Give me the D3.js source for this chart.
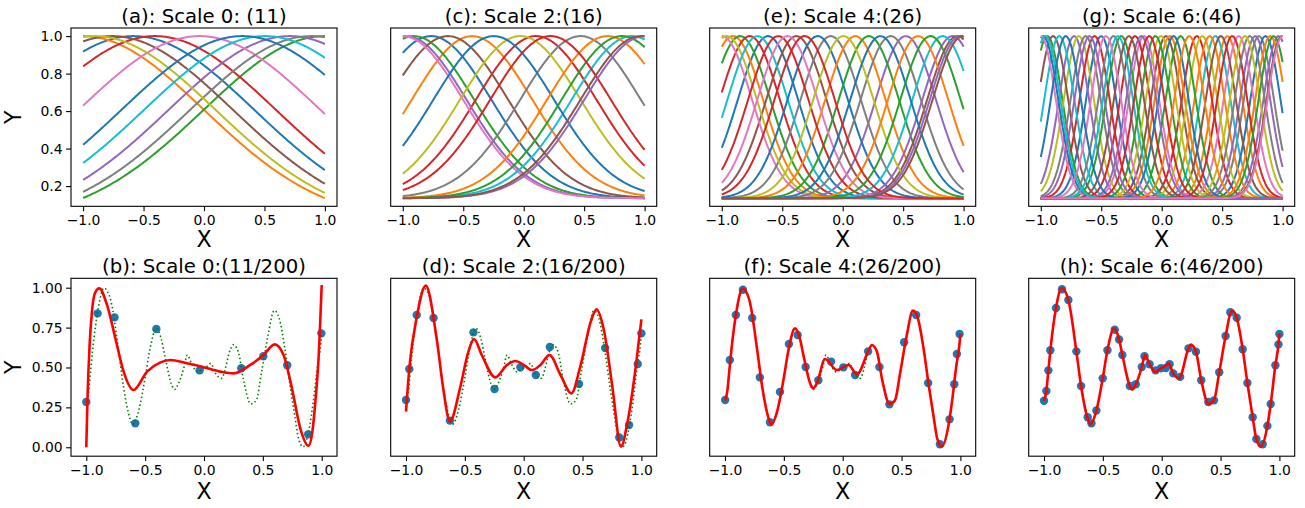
<!DOCTYPE html>
<html>
<head>
<meta charset="utf-8">
<script src="https://cdn.jsdelivr.net/npm/d3@7"></script>
<style>
  body { margin: 0; background: #fff; }
  svg { display: block; }
  text { font-family: "DejaVu Sans", "Liberation Sans", sans-serif; fill: #000; }
</style>
</head>
<body>
<svg id="chart" width="1305" height="508"></svg>
<script>
// ---------------- DATA ----------------
const titlesTop = ["(a): Scale 0: (11)", "(c): Scale 2:(16)", "(e): Scale 4:(26)", "(g): Scale 6:(46)"];
const titlesBottom = ["(b): Scale 0:(11/200)", "(d): Scale 2:(16/200)", "(f): Scale 4:(26/200)", "(h): Scale 6:(46/200)"];
const xTickValues = [-1.0, -0.5, 0.0, 0.5, 1.0];
const yTicksTop = [0.2, 0.4, 0.6, 0.8, 1.0];
const yTicksBottom = [0.00, 0.25, 0.50, 0.75, 1.00];

const kernelWidths = [1.0, 0.5, 0.25, 0.125];
// basis centres in plotting order (colour cycle follows this order)
const centersS0 = [-0.584, -1.0, 0.997, -0.405, 0.707, -0.76, -0.037, 0.885, -0.904, 0.504, 0.317];
const centersS2 = [-0.766, -0.427, -0.909, 0.103, -0.972, -0.627, -1.0, 0.470, -0.028, 0.895, -0.248, 0.692, 0.812, 0.222, 1.0, 0.969];
const centersS4 = [-0.618, -0.908, -0.848, -0.769, 0.522, -0.383, -0.999, -0.099, -0.959, -0.704, -0.207, 0.105, 0.216, -0.533, 0.908, 0.948, -0.457, 0.397, 0.006, 0.826, 0.312, 0.624, 0.726, -0.315, 0.970, 0.993];
const centersS6 = [-0.501, 0.543, -0.946, 0.291, -0.725, 0.035, -0.146, 0.804, -0.685, 0.444, 0.858, 0.067, -0.334, -0.555, 0.966, -0.898, 0.637, -0.629, 0.336, -0.847, -0.980, 0.396, 0.157, -0.220, 0.773, 0.489, -1.000, -0.399, -0.007, -0.362, 0.098, 0.898, -0.052, 0.583, -0.169, -0.271, -0.461, 0.728, 0.688, -0.963, -0.793, 0.228, 0.926, -0.103, -0.597, 0.992, 1.000];
const nSamples = 200;

// true target function (green dotted)
const trueX = [-1.0, -0.98, -0.963, -0.946, -0.898, -0.85, -0.793, -0.725, -0.685, -0.629, -0.607, -0.555, -0.501, -0.461, -0.405, -0.362, -0.334, -0.271, -0.25, -0.22, -0.169, -0.142, -0.103, -0.055, -0.007, 0.035, 0.057, 0.098, 0.147, 0.228, 0.247, 0.291, 0.336, 0.398, 0.444, 0.489, 0.543, 0.597, 0.637, 0.688, 0.728, 0.773, 0.804, 0.842, 0.898, 0.926, 0.966, 0.992, 1.0];
const trueY = [0.292, 0.353, 0.482, 0.608, 0.873, 0.998, 0.923, 0.601, 0.384, 0.180, 0.143, 0.230, 0.432, 0.608, 0.745, 0.676, 0.578, 0.384, 0.362, 0.395, 0.503, 0.578, 0.520, 0.472, 0.495, 0.512, 0.526, 0.463, 0.432, 0.620, 0.643, 0.599, 0.420, 0.272, 0.294, 0.470, 0.697, 0.857, 0.812, 0.614, 0.403, 0.188, 0.052, 0.003, 0.134, 0.271, 0.514, 0.645, 0.710];

// fitted curves (red)
const fitBX = [-1.0, -0.989, -0.972, -0.952, -0.927, -0.89, -0.824, -0.753, -0.683, -0.600, -0.484, -0.37, -0.286, -0.144, 0.0, 0.139, 0.252, 0.393, 0.506, 0.60, 0.676, 0.747, 0.818, 0.888, 0.921, 0.949, 0.972, 1.0];
const fitBY = [0.0, 0.328, 0.641, 0.85, 0.965, 0.996, 0.892, 0.683, 0.474, 0.359, 0.474, 0.532, 0.547, 0.526, 0.501, 0.474, 0.463, 0.516, 0.578, 0.645, 0.578, 0.37, 0.119, 0.01, 0.10, 0.31, 0.54, 1.017];
const fitDX = [-1.0, -0.969, -0.91, -0.832, -0.74, -0.684, -0.627, -0.541, -0.47, -0.422, -0.356, -0.242, -0.142, -0.071, 0.0, 0.071, 0.142, 0.219, 0.313, 0.405, 0.484, 0.57, 0.618, 0.684, 0.755, 0.826, 0.883, 0.954, 1.0];
const fitDY = [0.223, 0.516, 0.81, 1.013, 0.683, 0.37, 0.161, 0.37, 0.6, 0.678, 0.578, 0.438, 0.516, 0.541, 0.516, 0.484, 0.516, 0.578, 0.453, 0.338, 0.516, 0.787, 0.864, 0.724, 0.37, 0.004, 0.161, 0.516, 0.802];
const fitFX = [-1.0, -0.98, -0.963, -0.946, -0.898, -0.85, -0.793, -0.725, -0.685, -0.629, -0.607, -0.555, -0.501, -0.461, -0.405, -0.362, -0.334, -0.271, -0.25, -0.22, -0.15, -0.05, 0.05, 0.12, 0.228, 0.247, 0.291, 0.336, 0.398, 0.444, 0.489, 0.543, 0.597, 0.637, 0.688, 0.728, 0.773, 0.804, 0.842, 0.898, 0.926, 0.966, 0.992, 1.0];
const fitFY = [0.292, 0.353, 0.482, 0.608, 0.873, 0.995, 0.923, 0.601, 0.384, 0.180, 0.143, 0.230, 0.432, 0.608, 0.745, 0.676, 0.578, 0.39, 0.37, 0.40, 0.553, 0.484, 0.516, 0.457, 0.62, 0.641, 0.599, 0.420, 0.272, 0.294, 0.470, 0.697, 0.857, 0.812, 0.614, 0.403, 0.188, 0.052, 0.005, 0.134, 0.271, 0.514, 0.645, 0.710];
// (h): the fit lies on the true function
const fitHX = trueX;
const fitHY = trueY;

// sampled points (blue)
const ptsBX = [-1.0, -0.904, -0.76, -0.584, -0.405, -0.037, 0.317, 0.504, 0.707, 0.885, 0.997];
const ptsBY = [0.284, 0.839, 0.814, 0.150, 0.741, 0.482, 0.495, 0.570, 0.514, 0.081, 0.714];
const ptsDX = [-1.0, -0.972, -0.909, -0.766, -0.627, -0.427, -0.248, -0.028, 0.103, 0.222, 0.470, 0.692, 0.812, 0.895, 0.969, 1.0];
const ptsDY = [0.296, 0.491, 0.829, 0.810, 0.167, 0.720, 0.365, 0.501, 0.453, 0.628, 0.397, 0.622, 0.061, 0.140, 0.522, 0.714];
const ptsFX = [-0.999, -0.959, -0.908, -0.848, -0.769, -0.704, -0.618, -0.533, -0.457, -0.383, -0.315, -0.207, -0.099, 0.006, 0.105, 0.216, 0.312, 0.397, 0.522, 0.624, 0.726, 0.826, 0.908, 0.948, 0.970, 0.993];
const ptsFY = [0.296, 0.547, 0.829, 0.987, 0.810, 0.438, 0.157, 0.347, 0.647, 0.704, 0.503, 0.420, 0.537, 0.501, 0.453, 0.601, 0.503, 0.269, 0.658, 0.829, 0.403, 0.019, 0.175, 0.395, 0.585, 0.710];
const ptsHX = [-1.000, -0.980, -0.963, -0.946, -0.898, -0.847, -0.793, -0.725, -0.685, -0.629, -0.597, -0.555, -0.501, -0.461, -0.399, -0.362, -0.334, -0.271, -0.220, -0.169, -0.146, -0.103, -0.052, -0.007, 0.035, 0.067, 0.098, 0.157, 0.228, 0.291, 0.336, 0.396, 0.444, 0.489, 0.543, 0.583, 0.637, 0.688, 0.728, 0.773, 0.804, 0.858, 0.898, 0.926, 0.966, 0.992, 1.000];
const ptsHY = [0.292, 0.353, 0.482, 0.608, 0.873, 0.990, 0.923, 0.601, 0.384, 0.188, 0.150, 0.230, 0.432, 0.608, 0.737, 0.676, 0.578, 0.384, 0.395, 0.503, 0.570, 0.520, 0.482, 0.495, 0.497, 0.520, 0.463, 0.441, 0.620, 0.599, 0.420, 0.284, 0.294, 0.470, 0.697, 0.846, 0.812, 0.614, 0.403, 0.188, 0.052, 0.019, 0.134, 0.271, 0.514, 0.645, 0.710];

// ---------------- LAYOUT / STYLE ----------------
const tab10 = ["#1f77b4", "#ff7f0e", "#2ca02c", "#d62728", "#9467bd", "#8c564b", "#e377c2", "#7f7f7f", "#bcbd22", "#17becf"];
const colLeft = [71, 390.7, 709.7, 1028.7];
const panelW = 266;
const rowTop = [28, 278.3];
const rowBottom = [206.3, 456.2];
const tickFont = 13.9, titleFont = 19.7, labelFont = 22.2;

const svg = d3.select("#chart");
svg.append("rect").attr("width", 1305).attr("height", 508).attr("fill", "#fff");

function zip(xs, ys) { return xs.map((x, i) => [x, ys[i]]); }

function frame(g, w, h) {
  g.append("rect").attr("x", 0).attr("y", 0).attr("width", w).attr("height", h)
    .attr("fill", "none").attr("stroke", "#000").attr("stroke-width", 1.1);
}

function xAxis(g, x, h) {
  const ax = g.append("g").attr("transform", `translate(0,${h})`)
    .call(d3.axisBottom(x).tickValues(xTickValues).tickFormat(d3.format(".1f"))
      .tickSize(4.9).tickPadding(4.2).tickSizeOuter(0));
  ax.select(".domain").remove();
  ax.selectAll("line").attr("stroke", "#000").attr("stroke-width", 1.1);
  ax.selectAll("text").attr("font-size", tickFont).attr("font-family", "DejaVu Sans");
}

function yAxis(g, y, ticks, fmt) {
  const ax = g.append("g")
    .call(d3.axisLeft(y).tickValues(ticks).tickFormat(d3.format(fmt))
      .tickSize(4.9).tickPadding(3.5).tickSizeOuter(0));
  ax.select(".domain").remove();
  ax.selectAll("line").attr("stroke", "#000").attr("stroke-width", 1.1);
  ax.selectAll("text").attr("font-size", tickFont).attr("font-family", "DejaVu Sans");
}

function labels(g, w, h, title, titleDy, xLabDy) {
  g.append("text").attr("x", w / 2).attr("y", titleDy).attr("text-anchor", "middle")
    .attr("font-size", titleFont).text(title);
  g.append("text").attr("x", w / 2).attr("y", xLabDy).attr("text-anchor", "middle")
    .attr("font-size", labelFont).text("X");
}

// ---------- top row: basis functions ----------
const topCenters = [centersS0, centersS2, centersS4, centersS6];
const sampleX = d3.range(nSamples).map(i => -1 + 2 * i / (nSamples - 1));

topCenters.forEach((centers, p) => {
  const h = rowBottom[0] - rowTop[0];
  const g = svg.append("g").attr("transform", `translate(${colLeft[p]},${rowTop[0]})`);
  const sig = kernelWidths[p];
  const curves = centers.map(c => sampleX.map(xv => [xv, Math.exp(-((xv - c) ** 2) / (2 * sig * sig))]));
  const allY = curves.flat().map(d => d[1]);
  const [ymin, ymax] = d3.extent(allY);
  const pad = (ymax - ymin) * 0.05;
  const x = d3.scaleLinear().domain([-1.1, 1.1]).range([0, panelW]);
  const y = d3.scaleLinear().domain([ymin - pad, ymax + pad]).range([h, 0]);
  const line = d3.line().x(d => x(d[0])).y(d => y(d[1]));
  g.selectAll("path.basis").data(curves).enter().append("path")
    .attr("class", "basis")
    .attr("d", line)
    .attr("fill", "none")
    .attr("stroke", (d, i) => tab10[i % 10])
    .attr("stroke-width", 2);
  frame(g, panelW, h);
  xAxis(g, x, h);
  if (p === 0) yAxis(g, y, yTicksTop, ".1f");
  labels(g, panelW, h, titlesTop[p], 23 - rowTop[0], 246.5 - rowTop[0]);
});

// ---------- bottom row: fits ----------
const fits = [[fitBX, fitBY], [fitDX, fitDY], [fitFX, fitFY], [fitHX, fitHY]];
const pts = [[ptsBX, ptsBY], [ptsDX, ptsDY], [ptsFX, ptsFY], [ptsHX, ptsHY]];

fits.forEach((fit, p) => {
  const h = rowBottom[1] - rowTop[1];
  const g = svg.append("g").attr("transform", `translate(${colLeft[p]},${rowTop[1]})`);
  const x = d3.scaleLinear().domain([-1.13, 1.13]).range([0, panelW]);
  const y = d3.scaleLinear().domain([-0.056, 1.059]).range([h, 0]);
  const line = d3.line().x(d => x(d[0])).y(d => y(d[1])).curve(d3.curveMonotoneX);

  g.selectAll("circle").data(zip(pts[p][0], pts[p][1])).enter().append("circle")
    .attr("cx", d => x(d[0])).attr("cy", d => y(d[1])).attr("r", 4.2)
    .attr("fill", "#1f77b4");
  g.append("path").attr("d", line(zip(trueX, trueY)))
    .attr("fill", "none").attr("stroke", "#008000").attr("stroke-width", 1.6)
    .attr("stroke-dasharray", "1.5,2.5");
  g.append("path").attr("d", line(zip(fit[0], fit[1])))
    .attr("fill", "none").attr("stroke", "#ff0000").attr("stroke-width", 2.6)
    .attr("stroke-linejoin", "round");
  frame(g, panelW, h);
  xAxis(g, x, h);
  if (p === 0) yAxis(g, y, yTicksBottom, ".2f");
  labels(g, panelW, h, titlesBottom[p], 272.5 - rowTop[1], 499.5 - rowTop[1]);
});

// Y labels
[[0, 117.2], [1, 367.2]].forEach(([r, cy]) => {
  svg.append("text").attr("transform", `translate(20.7,${cy}) rotate(-90)`)
    .attr("text-anchor", "middle").attr("font-size", labelFont).text("Y");
});
</script>
</body>
</html>
